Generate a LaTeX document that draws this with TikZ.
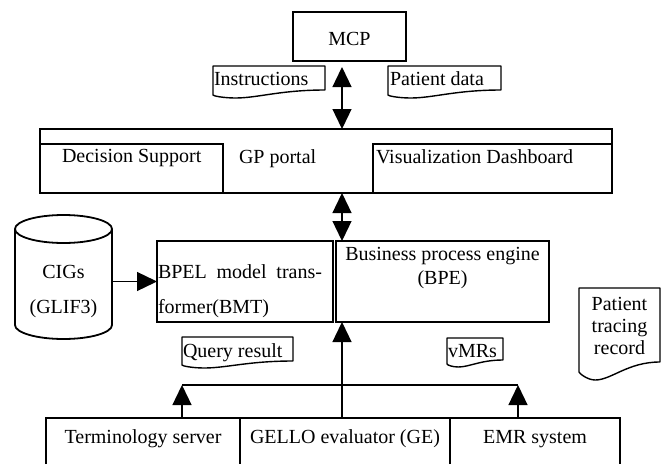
\documentclass[tikz,border=0pt]{standalone}
\usepackage{fontspec}
\setmainfont{Liberation Serif}
\usetikzlibrary{arrows.meta,calc}
\newcommand\docpath[6]{% x1 x2 ytop yleft yright ydip
  \draw[docline] (#1,#3) -- (#2,#3) -- (#2,#5)
    .. controls ({#1+0.6*(#2-#1)},#5) and ({#1+0.4*(#2-#1)},#6) .. ({#1+0.2*(#2-#1)},#6)
    .. controls ({#1+0.1*(#2-#1)},#6) and (#1,{#4+1}) .. (#1,#4) -- cycle;}
\begin{document}
\begin{tikzpicture}[x=1pt,y=-1pt,
  every node/.style={font=\fontsize{20}{22}\selectfont, inner sep=0pt, outer sep=0pt},
  box/.style={draw, line width=1.8pt},
  docline/.style={line width=1.4pt, line join=round},
  txt/.style={anchor=base west},
  ctxt/.style={anchor=base},
  conn/.style={line width=1.3pt},
  arr/.style={conn, -{Triangle[length=20pt,width=19pt]}},
  darr/.style={conn, {Triangle[length=20pt,width=19pt]}-{Triangle[length=20pt,width=19pt]}}]
\useasboundingbox (0,0) rectangle (665,464);

% MCP
\node[box, minimum width=113pt, minimum height=49pt] (mcp) at (349.5,36.5) {};
\node[ctxt] (mcpt) at (349.5,45) {MCP};

% notes
\docpath{213}{325}{66}{95}{90}{98}
\node[txt] (instr) at (214,85) {Instructions};
\docpath{388}{501}{66}{95}{90}{98}
\node[txt] (pdata) at (390,85) {Patient data};

% GP portal
\node[box, minimum width=572pt, minimum height=64pt] (gp) at (326,161) {};
\node[box, minimum width=183pt, minimum height=49pt] (ds) at (131.5,168.5) {};
\node[box, minimum width=239pt, minimum height=49pt] (vd) at (492.5,168.5) {};
\node[txt] (dst) at (62,162) {Decision Support};
\node[txt] (gpt) at (239,163) {GP portal};
\node[txt] (vdt) at (376,163) {Visualization Dashboard};

% BMT / BPE
\node[box, minimum width=176pt, minimum height=81pt] (bmt) at (245,281.5) {};
\node[box, minimum width=213pt, minimum height=81pt] (bpe) at (442.5,281.5) {};
\node[txt] (bmt1) at (158,278) {\makebox[164pt][s]{BPEL model trans-}};
\node[txt] (bmt2) at (158,313) {former(BMT)};
\node[ctxt] (bpe1) at (442.5,260) {Business process engine};
\node[ctxt] (bpe2) at (442.5,284) {(BPE)};

% CIGs cylinder
\draw[line width=1.8pt] (15,229) -- (15,325)
  arc[start angle=180, end angle=0, x radius=48.5, y radius=14] -- (112,229);
\draw[line width=1.8pt] (63.5,229) ellipse[x radius=48.5, y radius=14];
\node[minimum width=97pt, minimum height=124pt] (cigs) at (63.5,277) {};
\node[ctxt] (cigs1) at (63.5,278) {CIGs};
\node[ctxt] (cigs2) at (63.5,313) {(GLIF3)};

% Patient tracing record
\docpath{579}{660}{288}{372}{362}{380}
\node[ctxt] (ptr1) at (619.5,310) {Patient};
\node[ctxt] (ptr2) at (619.5,332) {tracing};
\node[ctxt] (ptr3) at (619.5,354) {record};

% Query result, vMRs
\docpath{182}{293}{337}{365}{361}{368}
\node[txt] (qr) at (183,357) {Query result};
\docpath{447}{503}{338}{364}{360}{367}
\node[txt] (vmr) at (448,357) {vMRs};

% bottom boxes
\node[minimum width=194pt, minimum height=46pt] (ts) at (143,441) {};
\node[minimum width=210pt, minimum height=46pt] (ge) at (345,441) {};
\node[minimum width=170pt, minimum height=46pt] (emr) at (535,441) {};
\draw[line width=1.5pt] (ge.north west) -- (ge.north east);
\draw[line width=2.6pt] (ts.south west) -- (ts.north west) -- (ts.north east) -- (ts.south east);
\draw[box] (emr.south west) -- (emr.north west) -- (emr.north east) -- (emr.south east);
\node[ctxt] (tst) at (143,443) {Terminology server};
\node[ctxt] (get) at (345,443) {GELLO evaluator (GE)};
\node[ctxt] (emrt) at (535,443) {EMR system};

% connectors
\coordinate (ax) at (342,0);
\draw[darr, shorten <=6pt] (mcp.south -| ax) -- (gp.north -| ax);
\draw[darr] (gp.south -| ax) -- (bpe.north -| ax);
\draw[arr] (cigs.east |- bmt.west) -- (bmt.west);
\draw[arr] (ge.north -| ax) -- (bpe.south -| ax);
\coordinate (hl) at (182,385);
\coordinate (hr) at (518,385);
\draw[conn] (hl) -- (hr);
\draw[arr] (ts.north -| hl) -- (hl);
\draw[arr] (emr.north -| hr) -- (hr);
\end{tikzpicture}
\end{document}
